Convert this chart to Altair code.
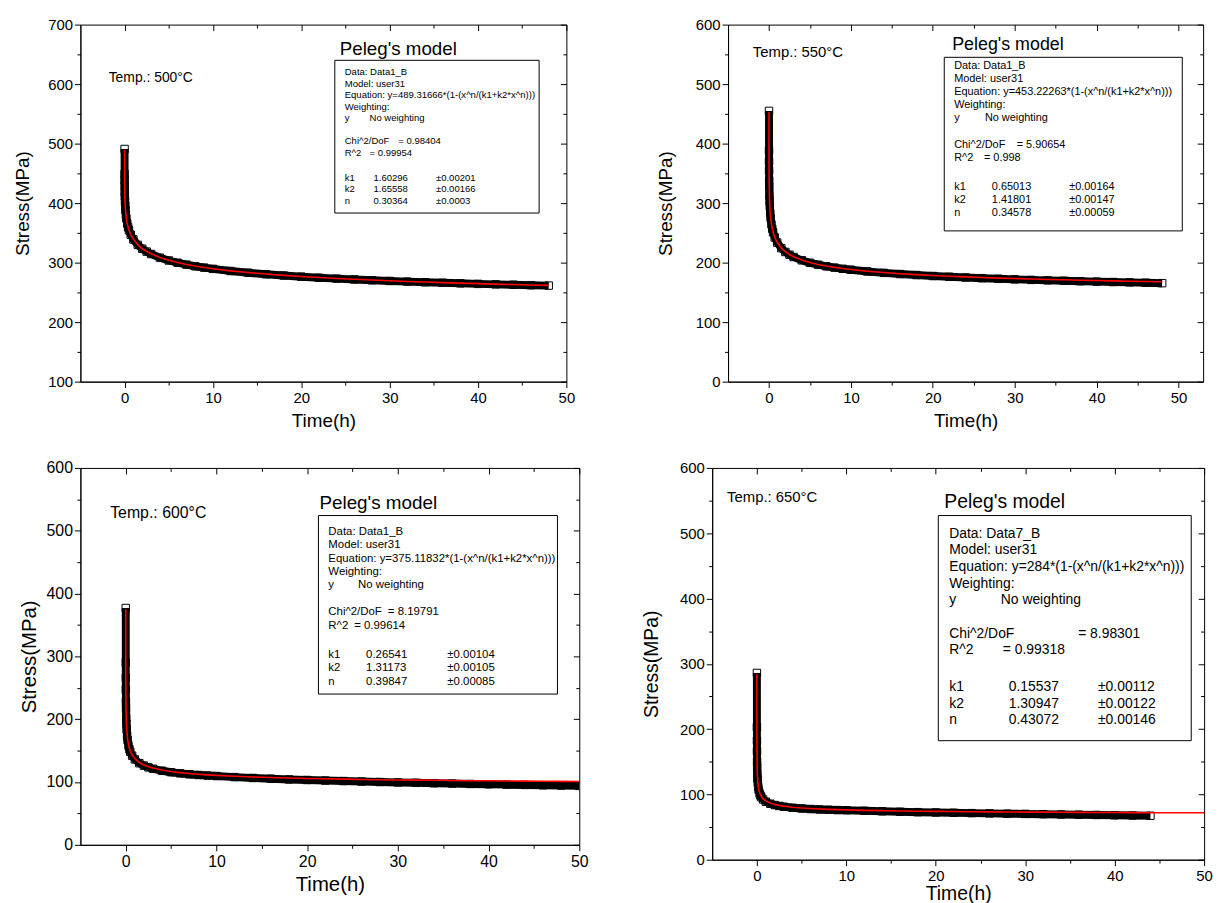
import altair as alt
import pandas as pd

FONT = "Liberation Sans"

# ---------------- data ----------------
TIME_H = [0, 0.002, 0.005, 0.01, 0.02, 0.03, 0.05, 0.07, 0.1, 0.15,
          0.2, 0.3, 0.4, 0.5, 0.7, 1, 1.5, 2, 2.5, 3,
          4, 5, 6, 7, 8, 9, 10,
          12, 14, 16, 18, 20, 22, 24, 26, 28, 30, 32, 34, 36, 38, 40, 42, 44, 46, 48, 50]

FIT_500 = [489.3, 449.3, 438.7, 429.3, 418.6, 411.7, 402.5, 396.1, 389.1, 380.8,
           374.7, 365.9, 359.6, 354.7, 347.1, 339.2, 330.1, 323.7, 318.8, 314.8,
           308.6, 303.9, 300.1, 296.9, 294.2, 291.9, 289.8,
           286.2, 283.3, 280.8, 278.6, 276.7, 274.9, 273.4, 272.0, 270.7, 269.5,
           268.4, 267.4, 266.4, 265.6, 264.7, 263.9, 263.2, 262.5, 261.8, 261.1]
DATA_500 = [491.0, 449.0, 438.5, 429.0, 418.3, 411.4, 402.2, 395.8, 388.8, 380.5,
            374.4, 365.6, 359.3, 354.4, 346.8, 338.9, 329.8, 323.4, 318.5, 314.5,
            308.3, 303.6, 299.8, 296.6, 293.9, 291.6, 289.5,
            285.9, 283.0, 280.5, 278.3, 276.4, 274.6, 273.1, 271.7, 270.4, 269.2,
            268.1, 267.1, 266.1, 265.2, 264.3, 263.5, 262.8, 262.1, 261.4, 260.8]

FIT_550 = [453.2, 388.5, 370.5, 355.0, 338.0, 327.5, 313.8, 304.6, 294.7, 283.5,
           275.6, 264.7, 257.1, 251.3, 242.8, 234.1, 224.7, 218.3, 213.6, 209.9,
           204.3, 200.1, 196.9, 194.2, 192.0, 190.0, 188.4,
           185.6, 183.3, 181.4, 179.8, 178.3, 177.1, 176.0, 175.0, 174.0, 173.2,
           172.4, 171.7, 171.1, 170.5, 169.9, 169.3, 168.8, 168.4, 167.9, 167.5]
DATA_550 = [455.0, 388.0, 370.0, 354.6, 337.6, 327.1, 313.4, 304.2, 294.3, 283.1,
            275.2, 264.3, 256.7, 250.9, 242.4, 233.7, 224.3, 217.9, 213.2, 209.5,
            203.9, 199.7, 196.5, 193.8, 191.6, 189.6, 188.0,
            185.2, 182.8, 180.8, 179.1, 177.5, 176.2, 175.0, 173.9, 172.8, 171.9,
            171.0, 170.2, 169.5, 168.8, 168.1, 167.4, 166.8, 166.2, 165.5, 165.0]

FIT_600 = [375.1, 291.2, 268.0, 249.0, 229.3, 217.8, 203.6, 194.5, 185.3, 175.3,
           168.5, 159.6, 153.7, 149.4, 143.2, 137.3, 131.1, 127.2, 124.4, 122.2,
           119.0, 116.7, 114.9, 113.5, 112.4, 111.4, 110.5,
           109.1, 108.0, 107.1, 106.3, 105.7, 105.1, 104.6, 104.1, 103.7, 103.3,
           103.0, 102.7, 102.4, 102.1, 101.9, 101.6, 101.4, 101.2, 101.0, 100.8]
DATA_600 = [377.0, 290.0, 266.5, 247.5, 227.8, 216.3, 202.0, 193.0, 183.8, 173.8,
            167.0, 158.1, 152.3, 148.0, 141.9, 136.0, 129.9, 126.1, 123.3, 121.1,
            117.9, 115.6, 113.8, 112.3, 111.2, 110.3, 109.5,
            107.8, 106.4, 105.2, 104.1, 103.2, 102.3, 101.5, 100.7, 100.0, 99.3,
            98.7, 98.1, 97.5, 96.9, 96.4, 95.8, 95.3, 94.8, 94.3, 93.8]

FIT_650 = [284.0, 204.4, 183.7, 167.6, 151.7, 142.9, 132.5, 126.0, 119.7, 113.1,
           108.7, 103.2, 99.6, 97.0, 93.5, 90.1, 86.8, 84.7, 83.2, 82.0,
           80.4, 79.3, 78.4, 77.7, 77.1, 76.7, 76.3,
           75.6, 75.1, 74.6, 74.3, 74.0, 73.7, 73.5, 73.3, 73.1, 72.9,
           72.8, 72.6, 72.5, 72.4, 72.2, 72.1, 72.0, 72.0, 71.9, 71.8]
DATA_650 = [286.0, 203.0, 182.0, 166.0, 150.0, 141.0, 130.5, 124.0, 117.8, 111.3,
            107.0, 101.6, 98.1, 95.6, 92.2, 88.9, 85.7, 83.7, 82.3, 81.1,
            79.6, 78.5, 77.6, 76.9, 76.4, 76.0, 75.8,
            74.9, 74.1, 73.4, 72.8, 72.3, 71.8, 71.3, 70.9, 70.5, 70.1,
            69.7, 69.3, 68.9, 68.5, 68.1, 67.7, 67.3, 67.0, 66.7, 66.4]

FITS = [FIT_500, FIT_550, FIT_600, FIT_650]
DATAS = [DATA_500, DATA_550, DATA_600, DATA_650]

TEMPS = ["500", "550", "600", "650"]
DATASETS = ["Data1_B", "Data1_B", "Data1_B", "Data7_B"]
EQ_COEFS = ["489.31666", "453.22263", "375.11832", "284"]
CHI2 = ["0.98404", "5.90654", "8.19791", "8.98301"]
R2 = ["0.99954", "0.998", "0.99614", "0.99318"]
K1 = [["1.60296", "0.00201"], ["0.65013", "0.00164"], ["0.26541", "0.00104"], ["0.15537", "0.00112"]]
K2 = [["1.65558", "0.00166"], ["1.41801", "0.00147"], ["1.31173", "0.00105"], ["1.30947", "0.00122"]]
NEXP = [["0.30364", "0.0003"], ["0.34578", "0.00059"], ["0.39847", "0.00085"], ["0.43072", "0.00146"]]

X_TICKS = [0, 5, 10, 15, 20, 25, 30, 35, 40, 45, 50]
X_MAJOR = [0, 10, 20, 30, 40, 50]
X_MINOR = [5, 15, 25, 35, 45]
Y_TICKS = [
    [100, 150, 200, 250, 300, 350, 400, 450, 500, 550, 600, 650, 700],
    [0, 50, 100, 150, 200, 250, 300, 350, 400, 450, 500, 550, 600],
    [0, 50, 100, 150, 200, 250, 300, 350, 400, 450, 500, 550, 600],
    [0, 50, 100, 150, 200, 250, 300, 350, 400, 450, 500, 550, 600],
]
Y_DOMAINS = [[100, 700], [0, 600], [0, 600], [0, 600]]
X_MAX = [50, 53, 50, 50]
DATA_END = [48, 48, 50, 44]
FIT_END = [48, 48, 50, 50]

# ---------------- layout (pixels, relative to each plot area) ----------------
LAYOUT = [
    dict(w=490, h=360, lab=15, tit=19, ytp=15, xtp=6.5,
         temp=(28.5, 54, 14), peleg=(261.5, 25, 18.9), box=(256.5, 462.5, 36, 190),
         tx=266.5, ty=48, lh=11.6, fs=9.6, now=25, val=29, err=92, chi=54, r=25),
    dict(w=479, h=360, lab=15, tit=19, ytp=19.5, xtp=6.5,
         temp=(25, 28, 15), peleg=(226, 21, 18), box=(218, 458, 33, 208),
         tx=228, ty=41, lh=13.3, fs=11, now=31, val=38, err=116, chi=63, r=30),
    dict(w=503, h=380, lab=16, tit=20.5, ytp=7, xtp=5,
         temp=(30, 45, 16), peleg=(241, 35, 19), box=(240, 481, 48, 228),
         tx=250, ty=64, lh=13.5, fs=11.5, now=30, val=38, err=120, chi=60, r=26),
    dict(w=496, h=395, lab=15, tit=19.5, ytp=18.5, xtp=1,
         temp=(15, 29, 15), peleg=(234, 34, 19.5), box=(228, 483, 48, 275),
         tx=239, ty=66, lh=16.8, fs=14, now=52, val=60, err=150, chi=130, r=54),
]

X_MINOR_TEST = "datum.value % 10 !== 0"
Y_MINOR_TEST = "datum.value % 100 !== 0"


def tick_size(test):
    return {"condition": {"test": test, "value": 3.5}, "value": 6}


def mirror(orient, values, size):
    return alt.Axis(orient=orient, offset=-size, values=values, labels=False,
                    domain=False, title=None, tickSize=size, grid=False)


def panel(i):
    L = LAYOUT[i]
    fit = pd.DataFrame({"t": TIME_H, "s": FITS[i]})
    fit = fit[fit["t"] <= FIT_END[i]]
    dat = pd.DataFrame({"t": TIME_H, "s": DATAS[i]})
    dat = dat[dat["t"] <= DATA_END[i]]

    xs = alt.Scale(domain=[-5, X_MAX[i]], nice=False, zero=False)
    ys = alt.Scale(domain=Y_DOMAINS[i], nice=False, zero=False)
    y_major = [v for v in Y_TICKS[i] if v % 100 == 0]
    y_minor = [v for v in Y_TICKS[i] if v % 100 != 0]

    x_main = alt.Axis(orient="bottom", values=X_TICKS,
                      labelExpr="datum.value % 10 === 0 ? datum.label : ''",
                      tickSize=tick_size(X_MINOR_TEST), labelFontSize=L["lab"],
                      titleFontSize=L["tit"], titlePadding=L["xtp"], labelPadding=3,
                      labelOverlap=False, labelFlush=False, grid=False)
    y_main = alt.Axis(orient="left", values=Y_TICKS[i],
                      labelExpr="datum.value % 100 === 0 ? datum.label : ''",
                      tickSize=tick_size(Y_MINOR_TEST), labelFontSize=L["lab"],
                      titleFontSize=L["tit"], titlePadding=L["ytp"], labelPadding=2,
                      labelOverlap=False, grid=False)

    band = alt.Chart(dat).mark_line(color="black", strokeWidth=8, strokeCap="butt",
                                    clip=True).encode(
        x=alt.X("t:Q", scale=xs, axis=x_main, title="Time(h)"),
        y=alt.Y("s:Q", scale=ys, axis=y_main, title="Stress(MPa)"),
    )
    squares = alt.Chart(dat).mark_point(shape="square", filled=False, size=56,
                                        strokeWidth=1, color="black", opacity=1,
                                        clip=True).encode(
        x=alt.X("t:Q", scale=xs, axis=mirror("top", X_MAJOR, 6)),
        y=alt.Y("s:Q", scale=ys, axis=mirror("right", y_major, 6)),
    )
    fit_line = alt.Chart(fit).mark_line(color="#ff0000", strokeWidth=1.6, clip=True).encode(
        x=alt.X("t:Q", scale=xs, axis=mirror("top", X_MINOR, 3.5)),
        y=alt.Y("s:Q", scale=ys, axis=mirror("right", y_minor, 3.5)),
    )

    one = pd.DataFrame({"k": [0]})
    fs, lh, tx = L["fs"], L["lh"], L["tx"]

    def base(slot):
        return L["ty"] + slot * lh + 0.3 * fs

    def block(x, slot, lines):
        return alt.Chart(one).mark_text(
            text=lines, align="left", baseline="alphabetic", fontSize=fs,
            lineHeight=lh, font=FONT, color="black").encode(
            x=alt.value(x), y=alt.value(base(slot)))

    bx1, bx2, by1, by2 = L["box"]
    box = alt.Chart(one).mark_rect(fillOpacity=0, stroke="black", strokeWidth=1).encode(
        x=alt.value(bx1), x2=alt.value(bx2), y=alt.value(by1), y2=alt.value(by2))

    top_lines = [f"Data: {DATASETS[i]}", "Model: user31",
                 f"Equation: y={EQ_COEFS[i]}*(1-(x^n/(k1+k2*x^n)))", "Weighting:", "y"]
    layers = [
        box,
        block(tx, 0, top_lines),
        block(tx + L["now"], 4, "No weighting"),
        block(tx, 6, ["Chi^2/DoF", "R^2"]),
        block(tx + L["chi"], 6, f"= {CHI2[i]}"),
        block(tx + L["r"], 7, f"=  {R2[i]}"),
        block(tx, 9.2, ["k1", "k2", "n"]),
        block(tx + L["val"], 9.2, [K1[i][0], K2[i][0], NEXP[i][0]]),
        block(tx + L["err"], 9.2, ["\u00b1" + K1[i][1], "\u00b1" + K2[i][1], "\u00b1" + NEXP[i][1]]),
    ]

    tpx, tpy, tfs = L["temp"]
    temp = alt.Chart(one).mark_text(text=f"Temp.: {TEMPS[i]}\u00b0C", align="left",
                                    baseline="middle", fontSize=tfs, font=FONT,
                                    color="black").encode(x=alt.value(tpx), y=alt.value(tpy))
    ppx, ppy, pfs = L["peleg"]
    peleg = alt.Chart(one).mark_text(text="Peleg's model", align="left", baseline="middle",
                                     fontSize=pfs, font=FONT, color="black").encode(
        x=alt.value(ppx), y=alt.value(ppy))

    return alt.layer(band, squares, fit_line, *layers, temp, peleg).resolve_axis(
        x="independent", y="independent").properties(width=L["w"], height=L["h"])


row1 = alt.hconcat(panel(0), panel(1), spacing=81)
row2 = alt.hconcat(panel(2), panel(3), spacing=51)

chart = alt.vconcat(row1, row2, spacing=28).configure_view(
    stroke="black", strokeWidth=1
).configure_axis(
    labelFont=FONT, titleFont=FONT, labelColor="black", titleColor="black",
    domainColor="black", tickColor="black", titleFontWeight="normal",
    domainWidth=1, tickWidth=1
).properties(background="white")

chart.save("out.html", embed_options={"renderer": "svg", "actions": False})
